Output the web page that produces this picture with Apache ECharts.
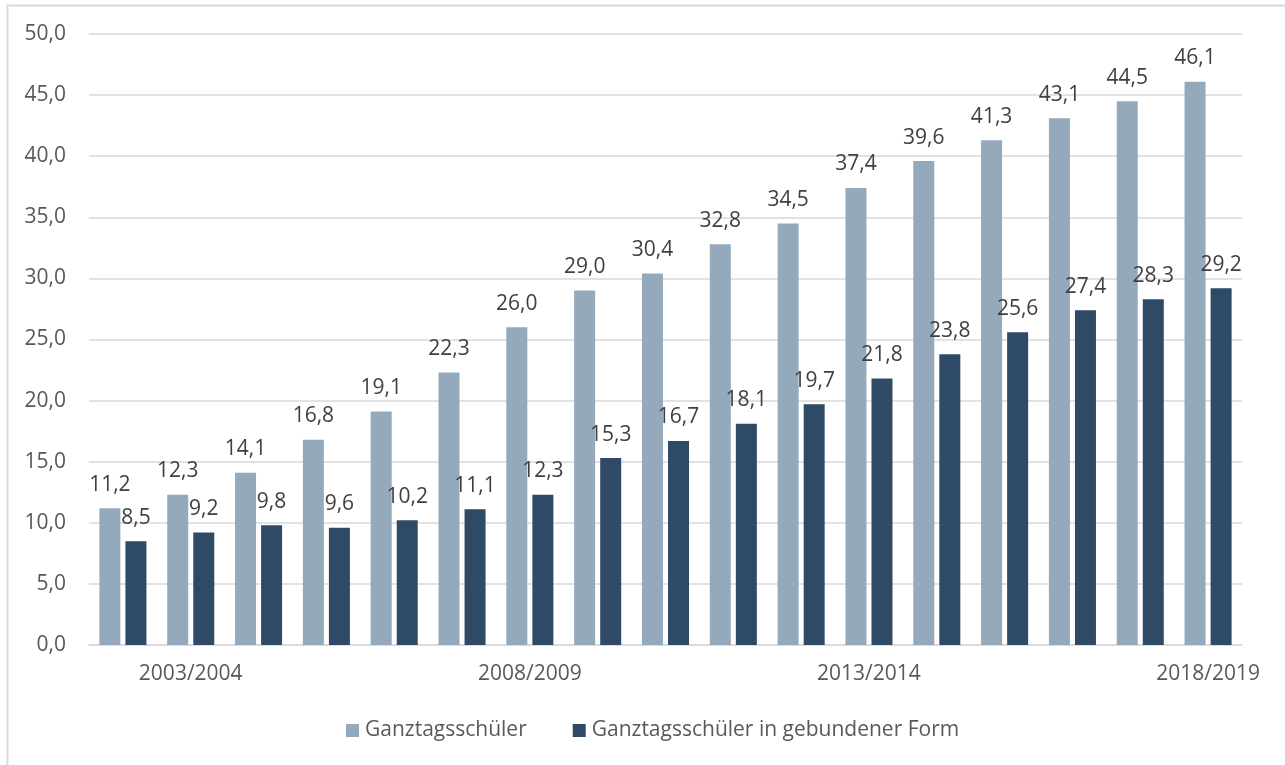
<!DOCTYPE html>
<html>
<head>
<meta charset="utf-8">
<script src="https://cdn.jsdelivr.net/npm/echarts@6/dist/echarts.min.js"></script>
<style>
  html, body { margin: 0; padding: 0; background: #fff; }
  #chart { width: 1285px; height: 765px; }
</style>
</head>
<body>
<div id="chart"></div>
<script>
let schoolYears = [
    '2002/2003', '2003/2004', '2004/2005', '2005/2006', '2006/2007', '2007/2008',
    '2008/2009', '2009/2010', '2010/2011', '2011/2012', '2012/2013', '2013/2014',
    '2014/2015', '2015/2016', '2016/2017', '2017/2018', '2018/2019'
]
let ganztag = [11.2, 12.3, 14.1, 16.8, 19.1, 22.3, 26.0, 29.0, 30.4, 32.8, 34.5, 37.4, 39.6, 41.3, 43.1, 44.5, 46.1]
let gebunden = [8.5, 9.2, 9.8, 9.6, 10.2, 11.1, 12.3, 15.3, 16.7, 18.1, 19.7, 21.8, 23.8, 25.6, 27.4, 28.3, 29.2]
let seriesNames = ['Ganztagsschüler', 'Ganztagsschüler in gebundener Form']

let chartOption = {
    'lightColor': '#94a9bc',
    'darkColor': '#2e4a66',
    'gridColor': '#d9d9d9',
    'axisText': '#595959',
    'labelText': '#404040',
    'font': '"Open Sans", sans-serif'
}

// Zahlen mit Komma wie im Original
function fmt(v) {
    return Number(v).toFixed(1).replace('.', ',')
}

function barSeries(name, data, color) {
    return {
        name: name,
        type: 'bar',
        barWidth: 21,
        barGap: '24%',
        itemStyle: { color: color },
        label: {
            show: true,
            position: 'top',
            distance: 13,
            color: chartOption.labelText,
            fontFamily: chartOption.font,
            fontSize: 21,
            formatter: function (p) { return fmt(p.value) }
        },
        data: data
    }
}

let option = {
    animation: false,
    backgroundColor: '#fff',
    textStyle: { fontFamily: chartOption.font },
    graphic: [{
        type: 'rect',
        shape: { x: 7.5, y: 5.5, width: 1320, height: 800 },
        style: { fill: 'none', stroke: '#d9d9d9', lineWidth: 2 },
        silent: true
    }],
    grid: {
        left: 89,
        right: 43,
        top: 34,
        bottom: 120
    },
    legend: {
        bottom: 19,
        left: 341,
        itemWidth: 13,
        itemHeight: 13,
        itemGap: 46,
        icon: 'rect',
        textStyle: {
            color: chartOption.axisText,
            fontFamily: chartOption.font,
            fontSize: 21,
            padding: [0, 0, 0, 1]
        },
        data: seriesNames
    },
    xAxis: {
        type: 'category',
        data: schoolYears,
        axisLine: { lineStyle: { color: chartOption.gridColor, width: 1.5 } },
        axisTick: { show: false },
        axisLabel: {
            interval: function (index) { return index % 5 === 1 },
            color: chartOption.axisText,
            fontFamily: chartOption.font,
            fontSize: 21,
            margin: 19
        }
    },
    yAxis: {
        type: 'value',
        min: 0,
        max: 50,
        interval: 5,
        axisLine: { show: false },
        axisTick: { show: false },
        splitLine: { lineStyle: { color: chartOption.gridColor, width: 1.5 } },
        axisLabel: {
            color: chartOption.axisText,
            fontFamily: chartOption.font,
            fontSize: 21,
            margin: 23,
            formatter: fmt
        }
    },
    series: [
        barSeries(seriesNames[0], ganztag, chartOption.lightColor),
        barSeries(seriesNames[1], gebunden, chartOption.darkColor)
    ]
}

echarts.init(document.getElementById('chart')).setOption(option)
</script>
</body>
</html>
